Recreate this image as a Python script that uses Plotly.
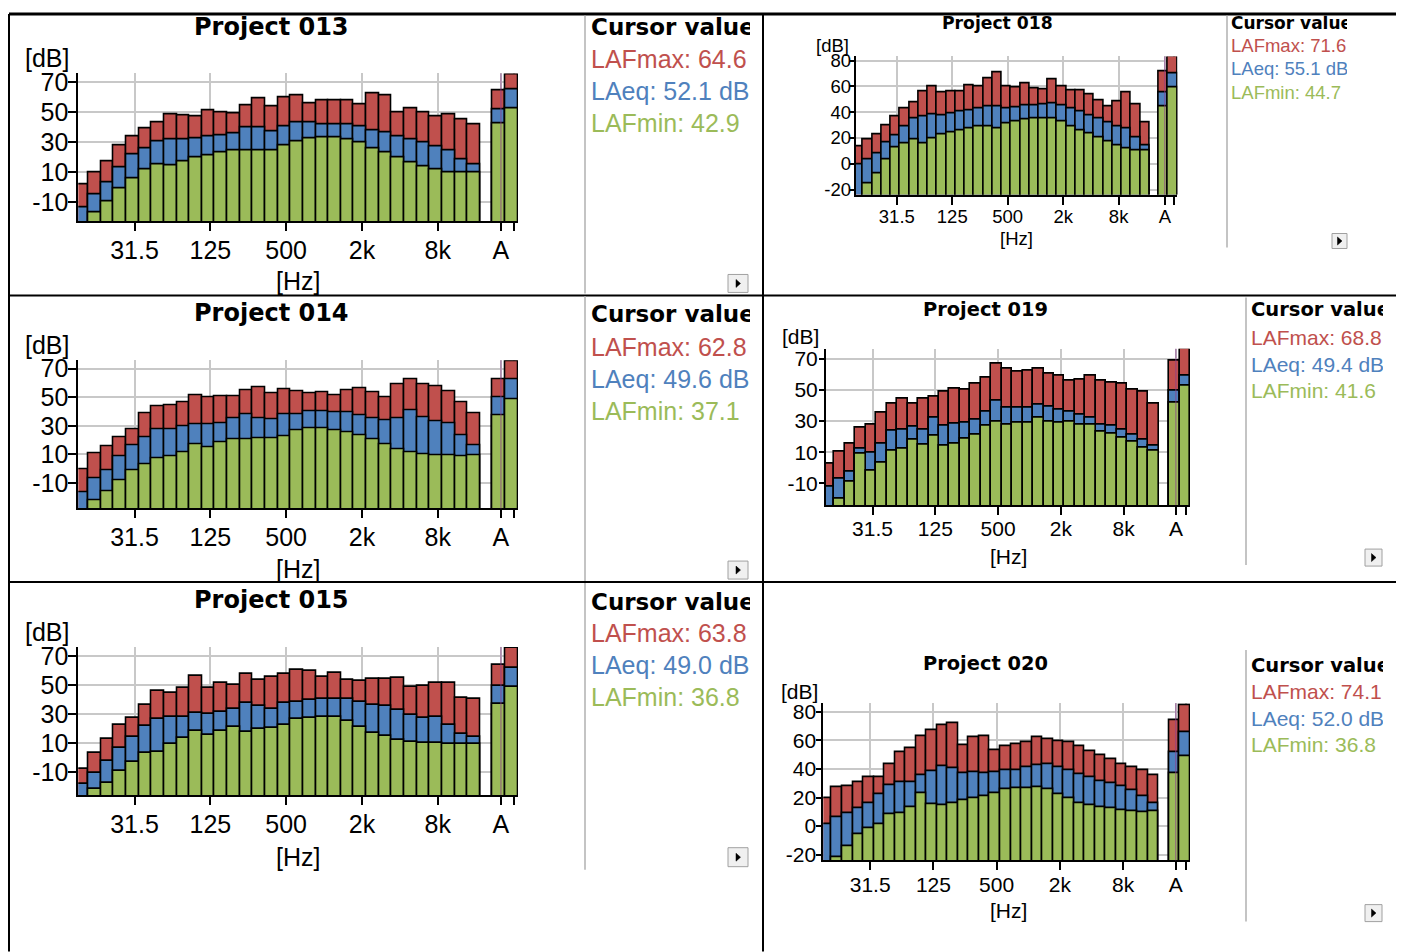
import plotly.graph_objects as go

# Measured mapping of figure pixels to the photographed window:
#   window_x = OX + fig_x ;  window_y = OY + SY * fig_y
OX, OY, SY = 8.0, 13.2, 0.9887
W, H = 1396, 952
RED, BLUE, GREEN = "#c0504d", "#4f81bd", "#9bbb59"
REG = "Liberation Sans, Arial, sans-serif"
BOLD = "DejaVu Sans, Verdana, sans-serif"

# ---------------- data ----------------
BANDS = ["12.5", "16", "20", "25", "31.5", "40", "50", "63", "80", "100", "125", "160",
         "200", "250", "315", "400", "500", "630", "800", "1k", "1.25k", "1.6k", "2k",
         "2.5k", "3.15k", "4k", "5k", "6.3k", "8k", "10k", "12.5k", "16k"]
TOTAL_BANDS = ["A", "Z"]
TICK_BANDS = ["31.5", "125", "500", "2k", "8k"]
TICK_TOTALS = ["A", ""]

P013_MAX = [1.8, 9.6, 17.3, 27.8, 33.8, 39.3, 43.3, 48.7, 48.2, 47.1, 51.1, 50.0, 49.1, 54.9, 59.1, 54.0,
            60.0, 61.3, 56.2, 58.2, 58.0, 58.0, 55.1, 62.4, 61.3, 50.0, 52.4, 50.0, 47.1, 48.4, 45.6, 42.2]
P013_EQ = [-13.3, -4.9, 2.9, 13.3, 22.2, 26.2, 30.7, 31.8, 32.0, 32.9, 34.0, 34.9, 35.8, 40.0, 40.0, 37.1,
           40.9, 43.1, 43.1, 42.0, 42.0, 42.0, 40.7, 38.0, 36.7, 33.8, 31.8, 30.0, 27.1, 24.4, 18.9, 15.1]
P013_MIN = [-35, -16.7, -9.3, -1.1, 6.0, 12.0, 15.1, 14.7, 17.3, 19.8, 21.1, 23.1, 24.4, 24.4, 24.4, 24.9,
            27.8, 30.4, 32.4, 33.3, 33.1, 32.0, 29.6, 26.2, 23.1, 20.0, 16.9, 13.8, 11.6, 10.0, 9.6, 9.8]
P013_TOT_MAX, P013_TOT_EQ, P013_TOT_MIN = [64.6, 75.6], [52.1, 65.6], [42.9, 52.9]

P014_MAX = [-0.5, 10.7, 15.8, 21.6, 27.4, 38.6, 43.7, 44.4, 46.3, 51.4, 50.2, 50.7, 50.7, 54.9, 57.2, 53.0,
            55.6, 54.2, 53.0, 53.7, 51.4, 54.9, 56.5, 53.3, 50.2, 59.1, 62.3, 58.8, 57.7, 54.4, 46.3, 38.6]
P014_EQ = [-16.7, -6.7, -0.9, 8.8, 16.5, 21.9, 27.7, 27.7, 29.3, 31.2, 30.7, 31.9, 35.1, 37.7, 35.1, 34.4,
           37.9, 37.9, 39.8, 39.8, 39.1, 39.1, 37.4, 35.1, 34.0, 35.1, 40.5, 35.8, 32.8, 31.6, 23.5, 16.5]
P014_MIN = [-35, -22.3, -15.6, -8.4, -1.4, 3.3, 7.0, 8.8, 11.4, 17.2, 14.9, 18.6, 20.5, 20.5, 21.2, 21.0,
            22.3, 27.0, 27.9, 28.1, 27.0, 25.3, 23.5, 20.5, 17.0, 13.7, 11.4, 10.0, 9.3, 9.3, 8.8, 9.3]
P014_TOT_MAX, P014_TOT_EQ, P014_TOT_MIN = [62.8, 75.1], [49.6, 62.3], [37.1, 48.4]

P015_MAX = [-8.2, 3.3, 13.0, 22.2, 27.2, 36.0, 45.9, 44.7, 47.9, 56.2, 47.9, 51.4, 49.8, 57.8, 53.2, 55.5,
            57.8, 60.6, 59.4, 55.3, 58.3, 53.4, 53.0, 53.9, 54.4, 54.8, 48.6, 49.1, 51.4, 51.6, 41.0, 40.6]
P015_EQ = [-18.7, -10.7, -2.6, 6.6, 14.1, 21.5, 26.3, 27.9, 27.9, 30.7, 29.8, 31.1, 33.4, 37.8, 35.5, 33.7,
           37.6, 38.3, 39.9, 40.3, 40.3, 40.1, 38.3, 36.0, 35.3, 32.5, 29.5, 27.5, 27.9, 22.2, 16.0, 13.7]
P015_MIN = [-35, -22.2, -17.4, -9.3, -3.1, 3.1, 3.8, 9.1, 13.4, 18.0, 15.7, 18.3, 20.6, 17.6, 19.4, 20.1,
            22.2, 26.8, 27.5, 27.9, 27.9, 25.2, 21.0, 17.1, 14.6, 11.8, 10.7, 10.0, 10.0, 9.5, 9.1, 9.5]
P015_TOT_MAX, P015_TOT_EQ, P015_TOT_MIN = [63.8, 75.7], [49.0, 61.7], [36.8, 48.6]

P018_MAX = [13.8, 19.0, 22.6, 29.4, 36.4, 42.9, 47.8, 55.8, 60.0, 55.3, 56.4, 56.4, 61.0, 60.3, 66.2, 70.9,
            59.7, 59.0, 62.3, 58.4, 57.7, 65.7, 59.7, 57.1, 57.1, 54.0, 49.4, 44.7, 48.1, 55.1, 46.0, 31.7]
P018_EQ = [-0.8, 3.6, 8.3, 16.9, 22.1, 29.1, 34.8, 37.1, 38.2, 37.7, 38.7, 40.3, 41.6, 42.9, 44.2, 44.7,
           42.6, 43.6, 45.5, 45.5, 46.0, 46.8, 45.5, 42.9, 40.8, 37.7, 35.1, 31.7, 28.6, 27.8, 20.8, 14.3]
P018_MIN = [-35, -15.6, -7.8, 3.6, 12.5, 15.6, 19.2, 15.6, 19.7, 22.6, 24.2, 26.0, 27.8, 28.6, 28.6, 27.3,
            31.2, 33.2, 34.3, 35.1, 35.1, 35.1, 33.0, 28.6, 25.5, 23.9, 20.8, 17.7, 14.3, 11.7, 10.4, 10.4]
P018_TOT_MAX, P018_TOT_EQ, P018_TOT_MIN = [71.6, 83.6], [55.1, 70.1], [44.7, 59.2]

P019_MAX = [2.5, 10.5, 15.2, 25.5, 27.6, 35.1, 41.5, 44.1, 41.1, 44.7, 45.4, 49.0, 50.7, 50.1, 53.9, 58.0,
            66.6, 63.6, 61.9, 62.1, 63.6, 60.4, 59.1, 56.1, 56.9, 59.1, 55.9, 54.8, 53.9, 50.1, 49.0, 41.5]
P019_EQ = [-12.0, -7.3, -2.4, 12.6, 9.4, 15.2, 24.0, 24.4, 26.5, 24.8, 31.9, 27.0, 28.2, 29.1, 31.2, 36.2,
           43.0, 38.7, 38.7, 38.7, 40.4, 39.4, 37.2, 36.2, 34.0, 32.3, 28.0, 27.0, 24.4, 21.2, 18.0, 14.3]
P019_MIN = [-35, -20.1, -8.8, 9.0, -1.7, 3.4, 11.1, 12.0, 18.0, 14.8, 20.5, 14.1, 15.8, 19.0, 21.2, 27.0,
            29.7, 27.6, 28.7, 28.7, 31.9, 29.7, 29.1, 29.7, 28.0, 27.4, 23.3, 21.8, 19.5, 16.5, 13.0, 10.9]
P019_TOT_MAX, P019_TOT_EQ, P019_TOT_MIN = [68.8, 76.2], [49.4, 59.1], [41.6, 52.7]

P020_MAX = [19.6, 27.3, 27.8, 30.8, 34.3, 34.3, 43.6, 51.6, 54.4, 63.2, 66.9, 70.9, 72.1, 56.5, 62.1, 63.2,
            53.4, 55.8, 57.4, 59.0, 62.3, 60.9, 59.5, 58.8, 56.0, 52.7, 49.9, 46.9, 43.4, 41.5, 39.2, 35.9]
P020_EQ = [1.4, 6.1, 8.7, 12.4, 15.9, 22.4, 28.3, 30.6, 31.0, 35.9, 38.7, 42.2, 40.6, 37.1, 37.8, 37.3,
           37.8, 39.0, 39.4, 41.5, 42.5, 43.2, 41.5, 39.2, 36.6, 34.1, 31.7, 30.3, 27.8, 25.0, 20.8, 16.1]
P020_MIN = [-35, -21.6, -14.2, -6.0, -1.4, 1.4, 8.0, 9.1, 13.1, 22.7, 15.4, 14.7, 16.1, 18.0, 19.2, 21.0,
            23.1, 25.5, 26.4, 26.6, 27.1, 25.9, 22.4, 19.2, 16.1, 14.3, 13.3, 12.2, 11.0, 10.3, 9.8, 10.1]
P020_TOT_MAX, P020_TOT_EQ, P020_TOT_MIN = [74.1, 84.9], [52.0, 65.5], [36.8, 48.8]

PROJECTS = [
    ("Project 013", (P013_MAX, P013_EQ, P013_MIN), (P013_TOT_MAX, P013_TOT_EQ, P013_TOT_MIN)),
    ("Project 014", (P014_MAX, P014_EQ, P014_MIN), (P014_TOT_MAX, P014_TOT_EQ, P014_TOT_MIN)),
    ("Project 015", (P015_MAX, P015_EQ, P015_MIN), (P015_TOT_MAX, P015_TOT_EQ, P015_TOT_MIN)),
    ("Project 018", (P018_MAX, P018_EQ, P018_MIN), (P018_TOT_MAX, P018_TOT_EQ, P018_TOT_MIN)),
    ("Project 019", (P019_MAX, P019_EQ, P019_MIN), (P019_TOT_MAX, P019_TOT_EQ, P019_TOT_MIN)),
    ("Project 020", (P020_MAX, P020_EQ, P020_MIN), (P020_TOT_MAX, P020_TOT_EQ, P020_TOT_MIN)),
]
SERIES_LABELS = ["LAFmax", "LAeq", "LAFmin"]
SERIES_UNITS = ["", " dB", ""]

# ---------------- layout (pixel geometry in window coordinates) ----------------
LEFT = dict(fs=25, tfs=24, ctfs=23, cfs=25, cx0=587, cx1=750, cx=591, ylen=8, ystand=-5, xstand=-2)
PANEL_GEOM = [
    dict(LEFT, plot=(78.3, 72.7, 518, 220.7), yr=(-22.7, 76), yt=[-10, 10, 30, 50, 70],
         title=(271, 26), db=(23, 57), hz=(298, 281), cy=(15, 293), cys=(28, 61, 93, 125),
         btn=(728, 274, 748, 292), sep=(585, 15, 293)),
    dict(LEFT, plot=(78.3, 360, 518, 508.3), yr=(-27.9, 75.8), yt=[-10, 10, 30, 50, 70],
         title=(271, 313), db=(23, 345), hz=(298, 569), cy=(296, 580), cys=(316, 349, 381, 413),
         btn=(728, 561, 748, 579), sep=(585, 296, 581)),
    dict(LEFT, plot=(78.3, 647, 518, 795.3), yr=(-26.1, 76.2), yt=[-10, 10, 30, 50, 70],
         title=(271, 600), db=(23, 632), hz=(298, 857), cy=(583, 870), cys=(604, 636, 668, 700),
         btn=(728, 848, 748, 867), sep=(585, 583, 870)),
    dict(plot=(855.7, 55.7, 1177.3, 194), yr=(-23.9, 83.3), yt=[-20, 0, 20, 40, 60, 80],
         fs=18.5, tfs=17.2, ctfs=17, cfs=18.5, ylen=4, ystand=-5, xstand=-4,
         title=(997, 22), db=(814, 45), hz=(1016, 238),
         cx0=1229, cx1=1347, cx=1231, cy=(15, 247), cys=(24, 47, 70, 94),
         btn=(1332, 233, 1347, 248), sep=(1227, 15, 247)),
    dict(plot=(826, 348.3, 1190, 505), yr=(-24, 76.5), yt=[-10, 10, 30, 50, 70],
         fs=21, tfs=19.4, ctfs=19.5, cfs=21, ylen=5, ystand=-3, xstand=-4,
         title=(985, 309), db=(780, 336), hz=(1008, 556),
         cx0=1248, cx1=1383, cx=1251, cy=(297, 565), cys=(311, 339, 366, 392),
         btn=(1365, 549, 1382, 566), sep=(1246, 297, 565)),
    dict(plot=(823.3, 703.3, 1190, 860.7), yr=(-24, 86), yt=[-20, 0, 20, 40, 60, 80],
         fs=21, tfs=19.4, ctfs=19.5, cfs=21, ylen=5, ystand=-4, xstand=-4,
         title=(985, 664), db=(779, 692), hz=(1008, 911),
         cx0=1248, cx1=1383, cx=1251, cy=(650, 922), cys=(667, 694, 721, 747),
         btn=(1365, 905, 1382, 922), sep=(1246, 650, 922)),
]


def fx(p):
    return (p - OX) / W


def fy(p):
    return 1 - ((p - OY) / SY) / H


BASE = -60
TICK_OFF = 0.15
band_pos = list(range(len(BANDS)))
total_pos = [len(BANDS) + 1 + j for j in range(len(TOTAL_BANDS))]
positions = band_pos + total_pos
tickvals = [BANDS.index(b) + TICK_OFF for b in TICK_BANDS] + [p + TICK_OFF for p in total_pos]
ticktext = TICK_BANDS + TICK_TOTALS

fig = go.Figure()
layout = {}
annotations = []
shapes = []

for k, ((name, series, totals), g) in enumerate(zip(PROJECTS, PANEL_GEOM), start=1):
    xr = "x" if k == 1 else f"x{k}"
    yr_ = "y" if k == 1 else f"y{k}"
    for vals, tots, color in zip(series, totals, [RED, BLUE, GREEN]):
        ys = list(vals) + list(tots)
        fig.add_trace(go.Bar(
            x=positions, y=[v - BASE for v in ys], base=BASE, width=1,
            marker=dict(color=color, line=dict(color="black", width=1.6)),
            xaxis=xr, yaxis=yr_, showlegend=False, hoverinfo="skip"))
    x0, y0, x1, y1 = g["plot"]
    tickfont = dict(family=REG, size=g["fs"], color="black")
    layout["xaxis" if k == 1 else f"xaxis{k}"] = dict(
        domain=[fx(x0), fx(x1)], anchor=yr_, range=[-0.3, total_pos[-1] + 0.5],
        tickmode="array", tickvals=tickvals, ticktext=ticktext, tickfont=tickfont,
        showgrid=True, gridcolor="#c8c8c8", gridwidth=2, zeroline=False,
        showline=True, linecolor="black", linewidth=2,
        ticks="outside", ticklen=8, tickwidth=1.5, tickcolor="black",
        ticklabelstandoff=g["xstand"], fixedrange=True)
    layout["yaxis" if k == 1 else f"yaxis{k}"] = dict(
        domain=[fy(y1), fy(y0)], anchor=xr, range=list(g["yr"]),
        tickmode="array", tickvals=g["yt"], ticktext=[str(v) for v in g["yt"]], tickfont=tickfont,
        showgrid=True, gridcolor="#c8c8c8", gridwidth=2, zeroline=False,
        showline=True, linecolor="black", linewidth=2,
        ticks="outside", ticklen=g["ylen"], tickwidth=1.5, tickcolor="black",
        ticklabelstandoff=g["ystand"], fixedrange=True)
    # cursor line at the A band
    shapes.append(dict(type="line", xref=xr, yref=f"{yr_} domain",
                       x0=total_pos[0] + TICK_OFF, x1=total_pos[0] + TICK_OFF, y0=0, y1=1,
                       line=dict(color="rgba(140,60,140,0.75)", width=1), layer="above"))
    # texts
    tx, ty = g["title"]
    annotations.append(dict(text=f"<b>{name}</b>", x=fx(tx), y=fy(ty), xref="paper", yref="paper",
                            xanchor="center", yanchor="middle", showarrow=False,
                            font=dict(family=BOLD, size=g["tfs"], color="black")))
    dx, dy = g["db"]
    annotations.append(dict(text="[dB]", x=fx(dx), y=fy(dy), xref="paper", yref="paper",
                            xanchor="left", yanchor="middle", showarrow=False,
                            font=dict(family=REG, size=g["fs"], color="black")))
    hx, hy = g["hz"]
    annotations.append(dict(text="[Hz]", x=fx(hx), y=fy(hy), xref="paper", yref="paper",
                            xanchor="center", yanchor="middle", showarrow=False,
                            font=dict(family=REG, size=g["fs"], color="black")))
    # cursor value panel (text clipped at the panel edge)
    kc = k + 6
    cxr, cyr = f"x{kc}", f"y{kc}"
    cy0, cy1 = g["cy"]
    layout[f"xaxis{kc}"] = dict(domain=[fx(g["cx0"]), fx(g["cx1"])], range=[g["cx0"], g["cx1"]],
                               visible=False, anchor=cyr, fixedrange=True)
    layout[f"yaxis{kc}"] = dict(domain=[fy(cy1), fy(cy0)], range=[cy1, cy0],
                               visible=False, anchor=cxr, fixedrange=True)
    fig.add_trace(go.Scatter(x=[g["cx"]], y=[g["cys"][0]], mode="text", text=["<b>Cursor value</b>"],
                             textposition="middle right", cliponaxis=True,
                             textfont=dict(family=BOLD, size=g["ctfs"], color="black"),
                             xaxis=cxr, yaxis=cyr, showlegend=False, hoverinfo="skip"))
    fig.add_trace(go.Scatter(
        x=[g["cx"]] * 3, y=list(g["cys"][1:]), mode="text",
        text=[f"{lab}: {t[0]:.1f}{u}" for lab, t, u in zip(SERIES_LABELS, totals, SERIES_UNITS)],
        textposition="middle right", cliponaxis=True,
        textfont=dict(family=REG, size=g["cfs"], color=[RED, BLUE, GREEN]),
        xaxis=cxr, yaxis=cyr, showlegend=False, hoverinfo="skip"))
    # separator line
    sx, sy0, sy1 = g["sep"]
    shapes.append(dict(type="line", xref="paper", yref="paper", x0=fx(sx), x1=fx(sx),
                       y0=fy(sy0), y1=fy(sy1), line=dict(color="#c4c4c4", width=2)))
    # scroll button
    bx0, by0, bx1, by1 = g["btn"]
    shapes.append(dict(type="rect", xref="paper", yref="paper", x0=fx(bx0), x1=fx(bx1),
                       y0=fy(by1), y1=fy(by0), fillcolor="#f0f0f0",
                       line=dict(color="#a0a0a0", width=1)))
    mx, my = (bx0 + bx1) / 2, (by0 + by1) / 2
    shapes.append(dict(type="path", xref="paper", yref="paper",
                       path=f"M {fx(mx-2)} {fy(my-4)} L {fx(mx-2)} {fy(my+4)} L {fx(mx+2.5)} {fy(my)} Z",
                       fillcolor="black", line=dict(color="black", width=0.5)))


# table frame
def hline(y, xa, xb, w=2, c="black"):
    shapes.append(dict(type="line", xref="paper", yref="paper", x0=fx(xa), x1=fx(xb),
                       y0=fy(y), y1=fy(y), line=dict(color=c, width=w), layer="below"))


def vline(x, ya, yb, w=2, c="black"):
    shapes.append(dict(type="line", xref="paper", yref="paper", x0=fx(x), x1=fx(x),
                       y0=fy(ya), y1=fy(yb), line=dict(color=c, width=w), layer="below"))


hline(OY, 9, 1398, 3)
vline(9, OY, 952, 2)
vline(763, OY, 952, 2)
vline(1398, OY, 952, 2)
hline(295, 9, 1398, 2)
hline(582, 9, 1398, 2)

layout.update(dict(width=W, height=H, margin=dict(l=0, r=0, t=0, b=0),
                   paper_bgcolor="white", plot_bgcolor="white", barmode="overlay",
                   bargap=0, showlegend=False, annotations=annotations, shapes=shapes))
fig.update_layout(**layout)
fig.write_html("out.html")
